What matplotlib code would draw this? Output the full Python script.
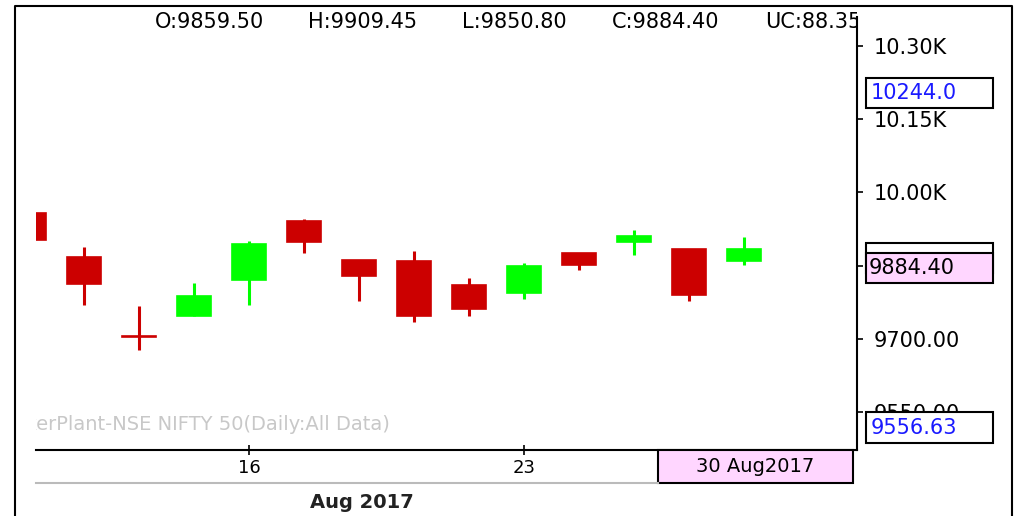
import matplotlib
matplotlib.use("Agg")
import matplotlib.pyplot as plt
from matplotlib.patches import Rectangle
from matplotlib.lines import Line2D
from matplotlib.transforms import Affine2D
import numpy as np

# NSE NIFTY 50, daily candles, Aug 2017
days = [9, 10, 11, 14, 16, 17, 18, 21, 22, 23, 24, 28, 29, 30]
opens = [9957.6, 9867.7, 9707.0, 9747.0, 9820.6, 9941.3, 9861.5, 9859.5, 9810.4, 9794.1, 9875.8, 9898.3, 9884.1, 9859.50]
highs = [9970.0, 9888.1, 9767.5, 9814.5, 9900.4, 9945.4, 9861.5, 9880.0, 9824.7, 9855.4, 9875.8, 9922.9, 9884.1, 9909.45]
lows = [9890.0, 9769.5, 9677.6, 9747.0, 9769.5, 9875.8, 9777.7, 9734.8, 9747.0, 9781.8, 9841.1, 9871.8, 9777.7, 9850.80]
closes = [9902.4, 9812.5, 9705.0, 9787.9, 9894.2, 9898.3, 9828.8, 9747.0, 9761.4, 9849.3, 9851.3, 9910.6, 9790.0, 9884.40]

tick_days = [16, 23]
yticks = [9550, 9700, 9850, 10000, 10150, 10300]
hidden_ticks = [9850]  # label sits under the last-close box
header = ["O:9859.50", "H:9909.45", "L:9850.80", "C:9884.40", "UC:88.35"]
range_high = "10244.0"
range_low = "9556.63"
last_close = "9884.40"
last_date = "30 Aug2017"
month_label = "Aug 2017"
watermark = "TickerPlant-NSE NIFTY 50(Daily:All Data)"

RED = "#CC0000"
GREEN = "#00FF00"
PINK = "#FFD6FF"
BLUE = "#1A1AFF"

W, H = 1015, 516
fig = plt.figure(figsize=(W / 100, H / 100), dpi=100)
px = Affine2D().scale(1.0 / W, -1.0 / H).translate(0, 1) + fig.transFigure

ax = fig.add_axes([36 / W, 1 - 450 / H, (857 - 36) / W, (450 - 6) / H])

x = np.arange(len(days))
o = np.array(opens)
c = np.array(closes)
up = c > o
colors = np.where(up, GREEN, RED)

ax.vlines(x, lows, highs, colors=colors, linewidth=2.2, zorder=2)
ax.bar(x, np.abs(c - o), bottom=np.minimum(o, c), width=0.63,
       color=colors, edgecolor=colors, linewidth=1.2, zorder=3)

ax.set_xlim(0.127, 15.055)
ax.set_ylim(9473, 10381)

ax.spines["top"].set_visible(False)
ax.spines["left"].set_visible(False)
ax.spines["right"].set_linewidth(1.5)
ax.spines["bottom"].set_linewidth(1.5)
ax.spines["right"].set_bounds(9473, 10358)


def fmt(v):
    if v in hidden_ticks:
        return ""
    return f"{v / 1000:.2f}K" if v >= 10000 else f"{v:.2f}"


ax.yaxis.tick_right()
ax.set_yticks(yticks)
ax.set_yticklabels([fmt(v) for v in yticks])
ax.tick_params(axis="y", direction="out", length=4, width=1.2, pad=8, labelsize=15)

ax.set_xticks([days.index(d) for d in tick_days])
ax.set_xticklabels([str(d) for d in tick_days])
ax.tick_params(axis="x", direction="inout", length=7, width=1.2, pad=3, labelsize=13)

# OHLC header, clipped at the price axis
for tx, s in zip([155, 308, 462, 612, 765], header):
    ax.text((tx - 36) / 821, (450 - 22) / 444, s, transform=ax.transAxes,
            fontsize=15, va="center", ha="left", clip_on=True)

ax.text((-2 - 36) / 821, (450 - 424) / 444, watermark, transform=ax.transAxes,
        fontsize=14, color="#C8C8C8", va="center", ha="left", clip_on=True)

# outer frame
fig.add_artist(Line2D([15, 15, 1012, 1012], [516, 6, 6, 516], transform=px,
                      color="black", linewidth=1.5))

# date row
fig.add_artist(Line2D([36, 658], [483, 483], transform=px, color="#BBBBBB", linewidth=1.5))
fig.add_artist(Rectangle((658, 450), 195, 33, transform=px, facecolor=PINK,
                         edgecolor="black", linewidth=1.5))
fig.text(755, 467, last_date, transform=px, fontsize=14, ha="center", va="center")
fig.text(362, 503, month_label, transform=px, fontsize=14, fontweight="bold",
         color="#222222", ha="center", va="center")

# right side value boxes
fig.add_artist(Rectangle((866, 78), 127, 30, transform=px, facecolor="white",
                         edgecolor="black", linewidth=1.5))
fig.text(871, 93, range_high, transform=px, fontsize=15, color=BLUE, ha="left", va="center")

fig.add_artist(Rectangle((866, 243), 127, 30, transform=px, facecolor="white",
                         edgecolor="black", linewidth=1.5))
fig.add_artist(Rectangle((866, 253), 127, 30, transform=px, facecolor=PINK,
                         edgecolor="black", linewidth=1.5))
fig.text(869, 268, last_close, transform=px, fontsize=15, color="black", ha="left", va="center")

fig.add_artist(Rectangle((866, 412), 127, 31, transform=px, facecolor="white",
                         edgecolor="black", linewidth=1.5))
fig.text(871, 428, range_low, transform=px, fontsize=15, color=BLUE, ha="left", va="center")

fig.savefig("out.png", dpi=100)
